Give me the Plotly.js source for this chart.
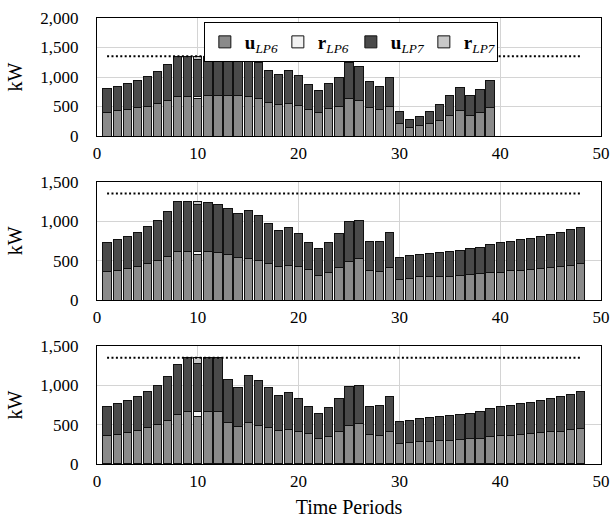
<!DOCTYPE html>
<html>
<head>
<meta charset="utf-8">
<script src="https://cdn.plot.ly/plotly-3.0.1.min.js"></script>
<style>html,body{margin:0;padding:0;background:#fff;}#chart{width:611px;height:521px;}</style>
</head>
<body>
<div id="chart"></div>
<script>
// Time periods 1..48
const periods = Array.from({length: 48}, (_, i) => i + 1);
const capLimit = 1350;
const capX = [1, 48];

// Panel 1
const u6_p1 = [401,424,452,475,503,548,610,672,672,633,684,684,689,689,672,633,565,537,554,520,446,396,458,503,633,610,480,441,503,215,147,175,215,271,356,424,356,407,480,0,0,0,0,0,0,0,0,0];
const r6_p1 = [0,0,0,0,0,0,0,0,0,34,0,0,0,0,0,0,0,0,0,0,0,0,0,0,0,0,0,0,0,0,0,0,0,0,0,0,0,0,0,0,0,0,0,0,0,0,0,0];
const u7_p1 = [407,423,441,469,508,548,599,678,678,638,666,666,661,661,678,621,548,514,553,503,424,378,435,486,616,571,452,406,491,197,135,158,203,260,333,401,328,384,464,0,0,0,0,0,0,0,0,0];
const r7_p1 = [0,0,0,0,0,0,0,0,0,45,0,0,0,0,0,0,0,0,0,0,0,0,0,0,0,0,0,0,0,0,0,0,0,0,0,0,0,0,0,0,0,0,0,0,0,0,0,0];

// Panel 2
const u6_p2 = [364,380,402,423,457,507,554,621,617,575,609,596,579,541,528,499,465,423,440,423,393,313,351,410,486,524,368,359,418,266,279,292,296,300,304,313,321,330,347,355,368,380,389,402,410,423,440,457];
const r6_p2 = [0,0,0,0,0,0,0,0,0,42,0,0,0,0,0,0,0,0,0,0,0,0,0,0,0,0,0,0,0,0,0,0,0,0,0,0,0,0,0,0,0,0,0,0,0,0,0,0];
const u7_p2 = [371,389,405,439,469,499,562,630,626,588,625,613,583,550,605,575,511,460,473,414,342,338,372,427,503,478,372,389,444,267,279,283,296,300,313,317,326,338,355,368,380,385,393,405,418,435,448,460];
const r7_p2 = [0,0,0,0,0,0,0,0,0,42,0,0,0,0,0,0,0,0,0,0,0,0,0,0,0,0,0,0,0,0,0,0,0,0,0,0,0,0,0,0,0,0,0,0,0,0,0,0];

// Panel 3
const u6_p3 = [364,381,403,424,458,496,555,631,669,602,669,669,530,479,525,491,462,424,441,419,390,318,352,407,483,517,369,360,415,263,275,284,292,297,305,314,322,330,347,356,364,377,390,398,407,419,436,453];
const r6_p3 = [0,0,0,0,0,0,0,0,0,68,0,0,0,0,0,0,0,0,0,0,0,0,0,0,0,0,0,0,0,0,0,0,0,0,0,0,0,0,0,0,0,0,0,0,0,0,0,0];
const u7_p3 = [373,390,406,436,466,508,559,640,681,612,681,681,542,491,598,572,504,449,470,411,339,326,364,423,504,483,368,386,441,271,284,292,301,305,314,317,326,339,356,369,382,386,394,411,423,437,450,466];
const r7_p3 = [0,0,0,0,0,0,0,0,0,68,0,0,0,0,0,0,0,0,0,0,0,0,0,0,0,0,0,0,0,0,0,0,0,0,0,0,0,0,0,0,0,0,0,0,0,0,0,0];

const seriesNames = ['<b>u</b><sub><i>LP6</i></sub>', '<b>r</b><sub><i>LP6</i></sub>', '<b>u</b><sub><i>LP7</i></sub>', '<b>r</b><sub><i>LP7</i></sub>'];
const seriesColors = ['#8a8a8a', '#f2f2f2', '#4a4a4a', '#c8c8c8'];

const panels = [
  [u6_p1, r6_p1, u7_p1, r7_p1],
  [u6_p2, r6_p2, u7_p2, r7_p2],
  [u6_p3, r6_p3, u7_p3, r7_p3]
];

const traces = [];
panels.forEach((series, p) => {
  const xa = p === 0 ? 'x' : 'x' + (p + 1);
  const ya = p === 0 ? 'y' : 'y' + (p + 1);
  series.forEach((vals, s) => {
    traces.push({
      type: 'bar', x: periods, y: vals, xaxis: xa, yaxis: ya,
      name: seriesNames[s], legendgroup: 's' + s, showlegend: p === 0,
      marker: {color: seriesColors[s], line: {color: '#111', width: 1}},
      hoverinfo: 'skip'
    });
  });
  traces.push({
    type: 'scatter', mode: 'lines', x: capX, y: [capLimit, capLimit],
    xaxis: xa, yaxis: ya, showlegend: false, hoverinfo: 'skip',
    line: {color: '#000', width: 2, dash: '2px,2.4px'}
  });
});

const fam = "'Liberation Serif', serif";
const font = {family: fam, size: 17, color: '#000'};
function xax(anchor, title) {
  const a = {
    anchor: anchor, range: [0, 50], tickvals: [0,10,20,30,40,50], ticks: '',
    showgrid: true, gridcolor: '#d4d4d4', gridwidth: 1, zeroline: false,
    showline: true, linecolor: '#000', linewidth: 1, mirror: true,
    tickfont: font, ticklabelstandoff: 2
  };
  if (title) a.title = {text: title, font: {family: fam, size: 20, color: '#000'}, standoff: 9};
  return a;
}
function yax(anchor, domain, max) {
  return {
    anchor: anchor, domain: domain, range: [0, max], dtick: 500, tick0: 0, ticks: '',
    tickformat: ',d', showgrid: true, gridcolor: '#d4d4d4', gridwidth: 1, zeroline: false,
    showline: true, linecolor: '#000', linewidth: 1, mirror: true,
    tickfont: font, ticklabelstandoff: 14,
    title: {text: 'kW', font: {family: fam, size: 20, color: '#000'}, standoff: 12}
  };
}

const layout = {
  width: 611, height: 521,
  margin: {l: 97, r: 10, t: 18, b: 57},
  paper_bgcolor: '#fff', plot_bgcolor: '#fff',
  barmode: 'stack', bargap: 0.18,
  font: font,
  separators: '.,',
  showlegend: true,
  legend: {
    orientation: 'h', x: 0.212, y: 0.991, xanchor: 'left', yanchor: 'top',
    bgcolor: '#fff', bordercolor: '#000', borderwidth: 1,
    font: {family: fam, size: 19, color: '#000'},
    traceorder: 'normal', itemwidth: 30, tracegroupgap: 0,
    entrywidth: 28, entrywidthmode: 'pixels'
  },
  xaxis: xax('y'),
  xaxis2: xax('y2'),
  xaxis3: xax('y3', 'Time Periods'),
  yaxis: yax('x', [0.7354, 1], 2000),
  yaxis2: yax('x2', [0.3677, 0.633], 1500),
  yaxis3: yax('x3', [0, 0.2646], 1500)
};

Plotly.newPlot('chart', traces, layout, {displayModeBar: false, staticPlot: true});
</script>
</body>
</html>
